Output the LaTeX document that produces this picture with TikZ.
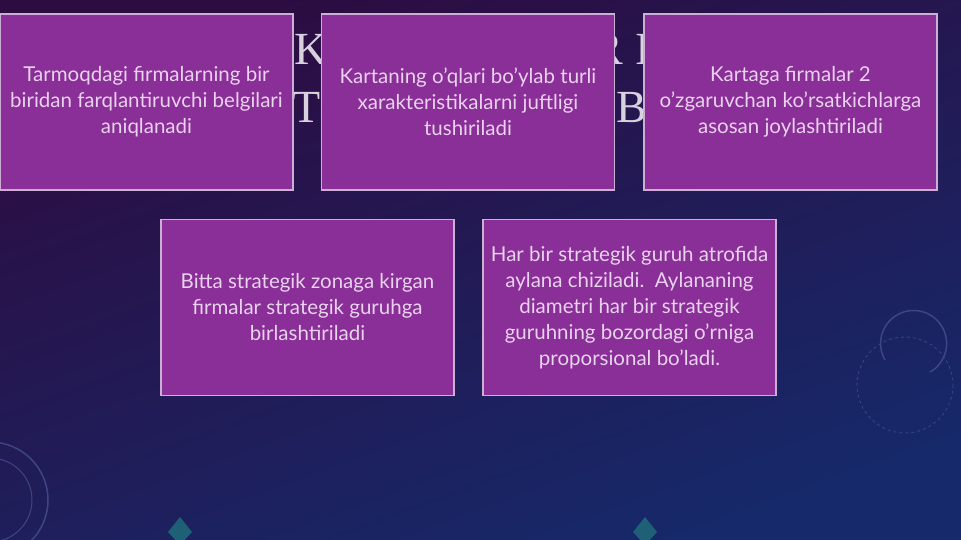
\documentclass[tikz,border=0pt]{standalone}
\usepackage{fontspec}
\newfontfamily\latofont{Lato}
\newfontfamily\titlefont{Liberation Serif}
\definecolor{bgtop}{HTML}{2D0C41}
\definecolor{bgbottom}{HTML}{16296A}
\definecolor{boxfill}{HTML}{8A2E98}
\definecolor{boxline}{HTML}{CDAFD6}
\definecolor{boxtext}{HTML}{E8D2EC}
\definecolor{titlegray}{HTML}{D8D2DE}
\definecolor{decoline}{HTML}{3E4584}
\definecolor{tealmark}{HTML}{1E6075}
\begin{document}
\begin{tikzpicture}[x=1pt, y=-1pt,
    stepbox/.style={rectangle, draw=boxline, line width=1.2pt, fill=boxfill, minimum width=293pt, minimum height=176pt, align=center, text=boxtext, font=\latofont\fontsize{20.5}{26}\selectfont},
    titlebit/.style={inner sep=0pt, text=titlegray, font=\titlefont\fontsize{46}{46}\selectfont}]
    % background of the slide
    \useasboundingbox (0,0) rectangle (961,540);
    \shade[top color=bgtop, bottom color=bgbottom, shading angle=20] (0,0) rectangle (961,540);
    \draw[decoline, line width=1.5pt] (885,360) arc (150:420:33);
    \draw[decoline, line width=0.8pt, dashed] (905,385) circle (48);
    \draw[decoline, line width=1.5pt] (-10,500) circle (58);
    \draw[decoline, line width=1pt] (-10,500) circle (42);
    \fill[tealmark] (180,517) -- (192,532) -- (180,545) -- (168,532) -- cycle;
    \fill[tealmark] (645,517) -- (657,532) -- (645,545) -- (633,532) -- cycle;
    % title behind the boxes
    \node[titlebit, anchor=base west] (tk) at (294,65) {K};
    \node[titlebit, anchor=base west] (tt) at (292,123) {TU};
    \node[titlebit, anchor=base east] (tr) at (623,65) {R};
    \node[titlebit, anchor=base west] (ti) at (635,65) {I};
    \node[titlebit, anchor=base west] (tb) at (616,123) {B};
    % upper row
    \node[stepbox] (belgi) at (146.5,102) {Tarmoqdagi firmalarning bir\\biridan farqlantiruvchi belgilari\\aniqlanadi};
    \node[stepbox] (oqlar) at (468,102) {Kartaning o’qlari bo’ylab turli\\xarakteristikalarni juftligi\\tushiriladi};
    \node[stepbox] (joylash) at (790.5,102) {Kartaga firmalar 2\\o’zgaruvchan ko’rsatkichlarga\\asosan joylashtiriladi};
    % lower row
    \node[stepbox] (guruh) at (307.5,307.5) {Bitta strategik zonaga kirgan\\firmalar strategik guruhga\\birlashtiriladi};
    \node[stepbox] (aylana) at (629.5,307.5) {Har bir strategik guruh atrofida\\aylana chiziladi.\ \ Aylananing\\diametri har bir strategik\\guruhning bozordagi o’rniga\\proporsional bo’ladi.};
\end{tikzpicture}
\end{document}
